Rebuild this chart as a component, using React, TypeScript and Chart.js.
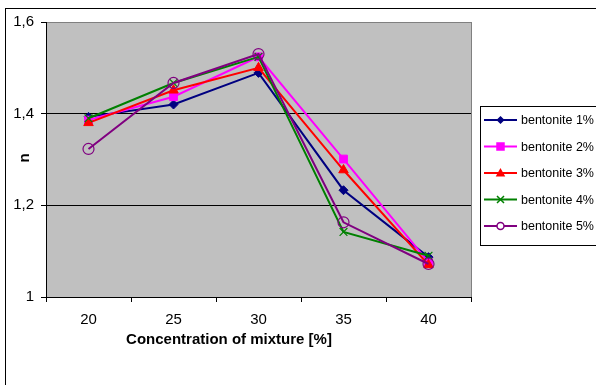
import React, { useEffect, useRef } from "react";
import { Chart, registerables } from "chart.js";

Chart.register(...registerables);

const categories = ["20", "25", "30", "35", "40"];
const seriesNames = ["bentonite 1%", "bentonite 2%", "bentonite 3%", "bentonite 4%", "bentonite 5%"];
const bentonite1 = [1.393, 1.42, 1.489, 1.233, 1.087];
const bentonite2 = [1.386, 1.437, 1.524, 1.301, 1.076];
const bentonite3 = [1.38, 1.451, 1.5, 1.277, 1.07];
const bentonite4 = [1.39, 1.467, 1.524, 1.142, 1.09];
const bentonite5 = [1.323, 1.467, 1.53, 1.163, 1.072];
const yTicks = [1, 1.2, 1.4, 1.6];
const xTitle = "Concentration of mixture [%]";
const yTitle = "n";

const FONT = "'Liberation Sans', Arial, sans-serif";

const colors = ["#000080", "#FF00FF", "#FF0000", "#008000", "#800080"];
const styles: any[] = ["rectRot", "rect", "triangle", "crossRot", "circle"];
const radii = [4.5, 5.5, 5.5, 5.5, 5.5];

export default function App() {
  const ref = useRef<HTMLCanvasElement>(null);
  useEffect(() => {
    const allData = [bentonite1, bentonite2, bentonite3, bentonite4, bentonite5];

    function drawPt(ctx: any, style: string, x: number, y: number, r: number, color: string, hollow: boolean) {
      ctx.save();
      ctx.fillStyle = hollow ? "#ffffff" : color;
      ctx.strokeStyle = color;
      ctx.lineWidth = 1.5;
      ctx.beginPath();
      if (style === "rectRot") {
        ctx.moveTo(x, y - r); ctx.lineTo(x + r, y); ctx.lineTo(x, y + r); ctx.lineTo(x - r, y); ctx.closePath();
        ctx.fill(); ctx.stroke();
      } else if (style === "rect") {
        ctx.rect(x - r, y - r, 2 * r, 2 * r); ctx.fill(); ctx.stroke();
      } else if (style === "triangle") {
        ctx.moveTo(x, y - r); ctx.lineTo(x + r, y + r * 0.8); ctx.lineTo(x - r, y + r * 0.8); ctx.closePath();
        ctx.fill(); ctx.stroke();
      } else if (style === "crossRot") {
        ctx.moveTo(x - r, y - r); ctx.lineTo(x + r, y + r); ctx.moveTo(x + r, y - r); ctx.lineTo(x - r, y + r);
        ctx.stroke();
      } else {
        ctx.arc(x, y, r, 0, Math.PI * 2); ctx.fill(); ctx.stroke();
      }
      ctx.restore();
    }

    const decor = {
      id: "decor",
      beforeDraw(chart: any) {
        const { ctx, chartArea: a, width, height } = chart;
        ctx.save();
        ctx.fillStyle = "#ffffff";
        ctx.fillRect(0, 0, width, height);
        ctx.strokeStyle = "#000000";
        ctx.lineWidth = 1;
        ctx.strokeRect(5.5, 8.5, width + 10, height + 10);
        ctx.fillStyle = "#C0C0C0";
        ctx.fillRect(a.left, a.top, a.right - a.left, a.bottom - a.top);
        ctx.strokeStyle = "#808080";
        ctx.strokeRect(a.left + 0.5, a.top + 0.5, a.right - a.left, a.bottom - a.top);
        ctx.restore();
      },
      afterDraw(chart: any) {
        const { ctx } = chart;
        ctx.save();
        ctx.fillStyle = "#000";
        ctx.font = `bold 15px ${FONT}`;
        ctx.textAlign = "center";
        ctx.textBaseline = "middle";
        ctx.fillText(xTitle, 229, 340);
        ctx.translate(25, 158);
        ctx.rotate(-Math.PI / 2);
        ctx.fillText(yTitle, 0, 0);
        ctx.restore();
        // legend
        ctx.save();
        ctx.strokeStyle = "#000";
        ctx.lineWidth = 1;
        ctx.fillStyle = "#fff";
        ctx.fillRect(480.5, 106.5, 130, 139);
        ctx.strokeRect(480.5, 106.5, 130, 139);
        ctx.font = `12.5px ${FONT}`;
        ctx.textBaseline = "middle";
        ctx.textAlign = "left";
        seriesNames.forEach((name, i) => {
          const y = 120 + i * 26.5;
          ctx.strokeStyle = colors[i];
          ctx.lineWidth = 2;
          ctx.beginPath();
          ctx.moveTo(484, y);
          ctx.lineTo(517, y);
          ctx.stroke();
          drawPt(ctx, styles[i], 500.5, y, i === 0 ? 3 : 3.5, colors[i], styles[i] === "circle");
          ctx.fillStyle = "#000";
          ctx.fillText(name, 521, y + 1);
        });
        ctx.restore();
      },
    };

    const chart = new Chart(ref.current!, {
      type: "line",
      data: {
        labels: categories,
        datasets: allData.map((d, i) => ({
          label: seriesNames[i],
          data: d,
          borderColor: colors[i],
          backgroundColor: i === 4 ? "rgba(0,0,0,0)" : colors[i],
          pointStyle: styles[i],
          pointRadius: radii[i],
          pointBorderColor: colors[i],
          pointBackgroundColor: i === 4 ? "rgba(0,0,0,0)" : colors[i],
          pointBorderWidth: i === 3 || i === 4 ? 1.2 : 1,
          borderWidth: 2,
          tension: 0,
          order: 4 - i,
        })),
      },
      options: {
        animation: false,
        responsive: false,
        devicePixelRatio: 1,
        layout: { padding: { left: 0, top: 22, right: 125, bottom: 0 } },
        plugins: { legend: { display: false }, tooltip: { enabled: false } },
        scales: {
          x: {
            type: "category",
            offset: true,
            grid: {
              offset: true,
              drawOnChartArea: false,
              drawTicks: true,
              tickLength: 5,
              color: "#000",
            },
            border: { color: "#000", width: 1 },
            ticks: {
              color: "#000",
              font: { family: FONT, size: 15 },
              padding: 9,
              maxRotation: 0,
            },
            afterFit(scale: any) {
              scale.height = 385 - 297;
            },
          },
          y: {
            min: 1,
            max: 1.6,
            afterBuildTicks(scale: any) {
              scale.ticks = yTicks.map((v) => ({ value: v }));
            },
            grid: {
              color: (c: any) => (c.tick && (c.tick.value === 1.2 || c.tick.value === 1.4) ? "#000" : "rgba(0,0,0,0)"),
              tickColor: "#000",
              tickLength: 5,
              drawTicks: true,
            },
            border: { color: "#000", width: 1 },
            ticks: {
              color: "#000",
              font: { family: FONT, size: 15 },
              padding: 7,
              callback: (v: any) => String(Math.round(Number(v) * 10) / 10).replace(".", ","),
            },
            afterFit(scale: any) {
              scale.width = 46;
            },
          },
        },
      },
      plugins: [decor],
    } as any);
    return () => chart.destroy();
  }, []);
  return (
    <div style={{ position: "fixed", left: 0, top: 0, width: 596, height: 385 }}>
      <canvas ref={ref} width={596} height={385} style={{ width: 596, height: 385, display: "block" }} />
    </div>
  );
}
